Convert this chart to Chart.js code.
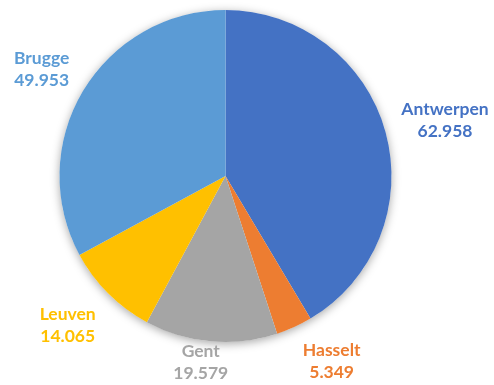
<!DOCTYPE html>
<html>
<head>
<meta charset="utf-8">
<script src="https://cdn.jsdelivr.net/npm/chart.js@4"></script>
<style>
  html, body { margin: 0; padding: 0; background: #ffffff; }
  #wrap { width: 494px; height: 385px; }
</style>
</head>
<body>
<div id="wrap"><canvas id="cityChart"></canvas></div>
<script>
// Cities and their counts
const cities = ["Antwerpen", "Hasselt", "Gent", "Leuven", "Brugge"];
const counts = [62958, 5349, 19579, 14065, 49953];
const sliceColors = ["#4472C4", "#ED7D31", "#A5A5A5", "#FFC000", "#5B9BD5"];

// Small nudges for the outside labels (to avoid overlaps)
const labelNudge = [[0, -1], [18, 0], [-6, -17], [-8, 5], [-2, -2]];

// Dutch thousands separator: 62958 -> "62.958"
function formatNl(n) {
  return String(n).replace(/\B(?=(\d{3})+(?!\d))/g, ".");
}

// Soft shadow under the whole pie
const pieShadow = {
  id: "pieShadow",
  beforeDatasetsDraw(chart) {
    const arc = chart.getDatasetMeta(0).data[0];
    if (!arc) return;
    const ctx = chart.ctx;
    ctx.save();
    ctx.shadowColor = "rgba(0,0,0,0.35)";
    ctx.shadowBlur = 10;
    ctx.shadowOffsetY = 2;
    ctx.fillStyle = "#ffffff";
    ctx.beginPath();
    ctx.arc(arc.x, arc.y, arc.outerRadius, 0, Math.PI * 2);
    ctx.fill();
    ctx.restore();
  }
};

// Labels outside each slice: name + value, in slice colour
const outsideLabels = {
  id: "outsideLabels",
  afterDatasetsDraw(chart) {
    const ctx = chart.ctx;
    const meta = chart.getDatasetMeta(0);
    ctx.save();
    ctx.font = "bold 17.5px Lato";
    ctx.textAlign = "center";
    ctx.textBaseline = "middle";
    meta.data.forEach((arc, i) => {
      const mid = (arc.startAngle + arc.endAngle) / 2;
      const ux = Math.cos(mid);
      const uy = Math.sin(mid);
      const name = cities[i];
      const val = formatNl(counts[i]);
      const w = Math.max(ctx.measureText(name).width, ctx.measureText(val).width);
      const h = 40;
      const gap = 18;
      const cx = arc.x + ux * (arc.outerRadius + gap + w / 2) + labelNudge[i][0];
      const cy = arc.y + uy * (arc.outerRadius + gap + h / 2) + labelNudge[i][1];
      ctx.fillStyle = sliceColors[i];
      ctx.fillText(name, cx, cy - 11);
      ctx.fillText(val, cx, cy + 11);
    });
    ctx.restore();
  }
};

const ctx = document.getElementById("cityChart").getContext("2d");
new Chart(ctx, {
  type: "pie",
  data: {
    labels: cities,
    datasets: [{
      data: counts,
      backgroundColor: sliceColors,
      borderWidth: 0
    }]
  },
  options: {
    responsive: true,
    maintainAspectRatio: false,
    animation: false,
    layout: { padding: { top: 10, bottom: 43, left: 59.5, right: 102.5 } },
    plugins: {
      legend: { display: false },
      tooltip: { enabled: false }
    }
  },
  plugins: [pieShadow, outsideLabels]
});
</script>
</body>
</html>
